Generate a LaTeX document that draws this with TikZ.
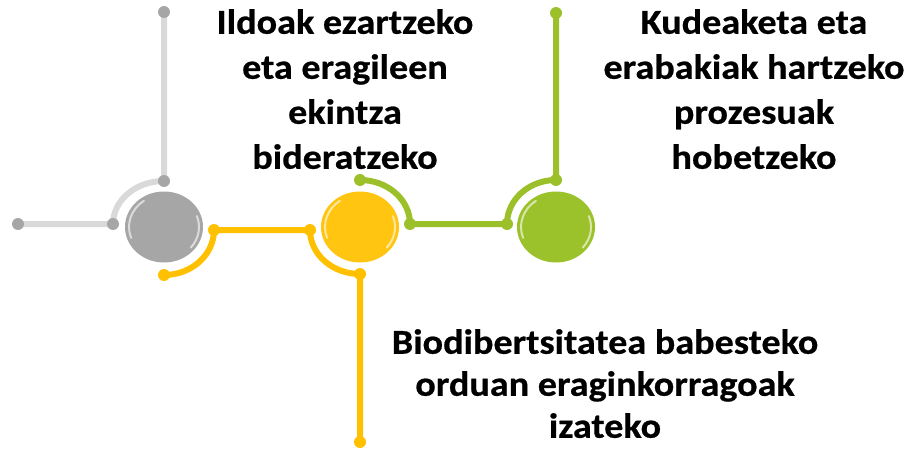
\documentclass[tikz,border=0pt]{standalone}
\usepackage{fontspec}
\newfontfamily\lblfont{Carlito}[FakeStretch=1.09, FakeBold=0.6]
\usetikzlibrary{shapes.geometric}
\definecolor{ballgray}{HTML}{A6A6A6}
\definecolor{linegray}{HTML}{D9D9D9}
\definecolor{ballyellow}{HTML}{FFC511}
\definecolor{lineyellow}{HTML}{FFC000}
\definecolor{ballgreen}{HTML}{9BC22B}
\definecolor{linegreen}{HTML}{9BC02A}

\begin{document}
\begin{tikzpicture}[x=1pt,y=1pt,
    link/.style={line width=6pt},
    ball/.style={ellipse, minimum width=78pt, minimum height=71pt, inner sep=0pt, fill=#1},
    shine/.style={white, opacity=0.6, line width=2pt, line cap=round},
    lbl/.style={align=center, inner sep=0pt, anchor=north, font=\lblfont\bfseries\fontsize{35}{45}\selectfont}]
    \useasboundingbox (0,0) rectangle (906,-452);
    \node[ball=ballgray] (gray) at (164,-227) {};
    \node[ball=ballyellow] (yellow) at (360,-227) {};
    \node[ball=ballgreen] (green) at (556,-227) {};
    \foreach \b in {gray,yellow,green} {
        \draw[shine] (\b.center) ++(200:35 and 32) arc[start angle=200, end angle=125, x radius=35, y radius=32];
        \draw[shine] (\b.center) ++(20:35 and 32) arc[start angle=20, end angle=-40, x radius=35, y radius=32];
    }
    \coordinate (g0) at (18,-224);
    \coordinate (g1) at (113,-224);
    \coordinate (g2) at (164,-181);
    \coordinate (g3) at (164,-12);
    \coordinate (y0) at (164,-275);
    \coordinate (y1) at (214,-230);
    \coordinate (y2) at (310,-230);
    \coordinate (y3) at (360,-274);
    \coordinate (y4) at (360,-442);
    \coordinate (n0) at (360,-180);
    \coordinate (n1) at (410,-224);
    \coordinate (n2) at (507,-224);
    \coordinate (n3) at (556,-180);
    \coordinate (n4) at (556,-13);
    \draw[link, linegray] (g0) -- (g1) arc[start angle=180, end angle=90, x radius=51, y radius=43] -- (g3);
    \draw[link, lineyellow] (y0) arc[start angle=-90, end angle=0, x radius=50, y radius=45] -- (y2)
        arc[start angle=180, end angle=270, x radius=50, y radius=44] -- (y4);
    \draw[link, linegreen] (n0) arc[start angle=90, end angle=0, x radius=50, y radius=44] -- (n2)
        arc[start angle=180, end angle=90, x radius=49, y radius=44] -- (n4);
    \foreach \p in {g0,g1,g2,g3} \fill[ballgray] (\p) circle[radius=6];
    \foreach \p in {y0,y1,y2,y3,y4} \fill[lineyellow] (\p) circle[radius=6];
    \foreach \p in {n0,n1,n2,n3,n4} \fill[linegreen] (\p) circle[radius=6];
    \node[lbl] (ildoak) at (345,-9) {Ildoak ezartzeko\\eta eragileen\\ekintza\\bideratzeko};
    \node[lbl] (kudeaketa) at (754,-9) {Kudeaketa eta\\erabakiak hartzeko\\prozesuak\\hobetzeko};
    \node[lbl, font=\lblfont\bfseries\fontsize{35}{42}\selectfont] (biodib) at (605,-329) {Biodibertsitatea babesteko\\orduan eraginkorragoak\\izateko};
\end{tikzpicture}
\end{document}
